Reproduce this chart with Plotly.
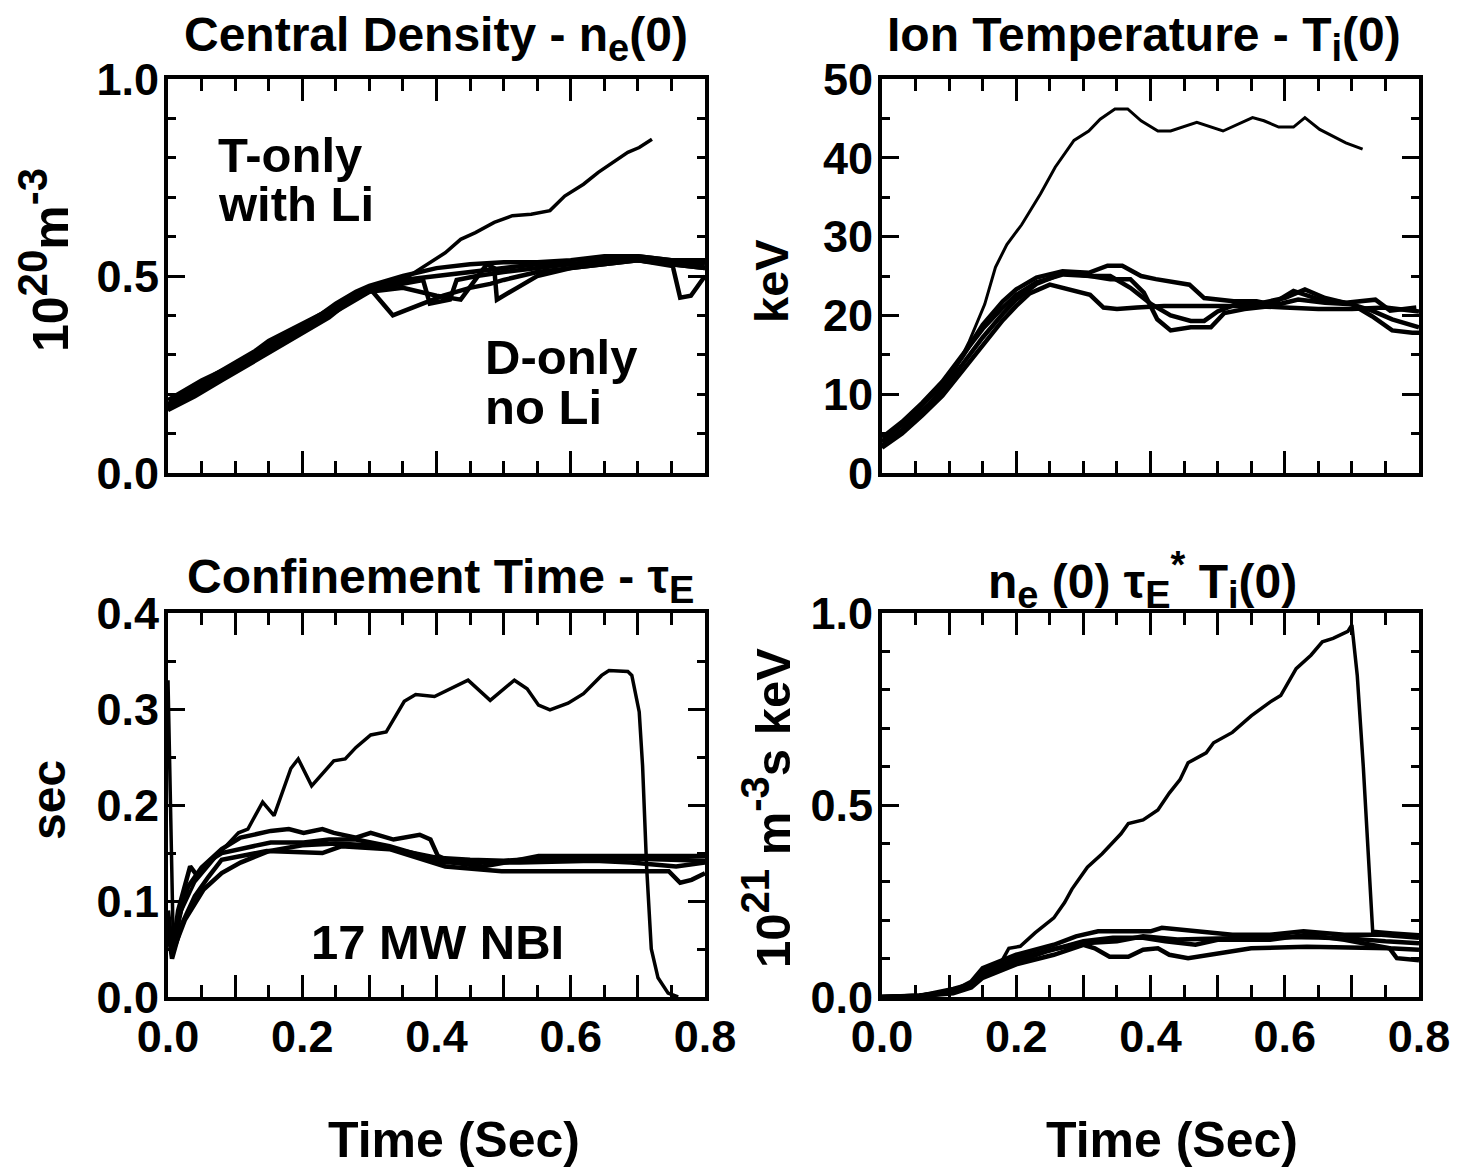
import plotly.graph_objects as go

W, H = 1483, 1172

# ---------------- data: Central density n_e(0) (1e20 m^-3) ----------------
ne_t_T = [0, 0.05, 0.1, 0.15, 0.2, 0.25, 0.3, 0.35, 0.391, 0.413, 0.436, 0.458, 0.486, 0.513,
          0.541, 0.569, 0.591, 0.619, 0.641, 0.663, 0.685, 0.702, 0.721]
ne_v_T = [0.16, 0.21, 0.26, 0.31, 0.36, 0.42, 0.46, 0.49, 0.534, 0.559, 0.593, 0.610, 0.636, 0.653,
          0.657, 0.666, 0.703, 0.733, 0.763, 0.788, 0.814, 0.826, 0.847]
ne_t_D1 = [0, 0.03, 0.07, 0.1, 0.13, 0.15, 0.2, 0.23, 0.25, 0.28, 0.3, 0.35, 0.4, 0.45, 0.5, 0.55, 0.6, 0.65, 0.7, 0.75, 0.8]
ne_v_D1 = [0.17, 0.20, 0.25, 0.28, 0.31, 0.335, 0.38, 0.405, 0.43, 0.46, 0.475, 0.50, 0.52, 0.53, 0.535, 0.535, 0.54, 0.55, 0.55, 0.54, 0.53]
ne_t_D2 = [0, 0.04, 0.08, 0.12, 0.16, 0.2, 0.24, 0.28, 0.3, 0.325, 0.335, 0.35, 0.38, 0.41, 0.45, 0.48, 0.5,
           0.55, 0.6, 0.65, 0.7, 0.75, 0.8]
ne_v_D2 = [0.16, 0.195, 0.235, 0.275, 0.315, 0.355, 0.395, 0.45, 0.47, 0.42, 0.40, 0.41, 0.43, 0.45, 0.47, 0.48, 0.49,
           0.51, 0.52, 0.53, 0.54, 0.53, 0.52]
ne_t_D3 = [0, 0.05, 0.1, 0.15, 0.2, 0.25, 0.3, 0.35, 0.38, 0.39, 0.42, 0.43, 0.46, 0.5, 0.55, 0.6, 0.65, 0.7, 0.75, 0.8]
ne_v_D3 = [0.185, 0.235, 0.275, 0.325, 0.375, 0.425, 0.465, 0.48, 0.49, 0.43, 0.44, 0.49, 0.50, 0.51, 0.52, 0.53, 0.54, 0.55, 0.54, 0.54]
ne_t_D4 = [0, 0.05, 0.1, 0.15, 0.2, 0.25, 0.3, 0.35, 0.4, 0.436, 0.475, 0.486, 0.49, 0.52, 0.55, 0.6, 0.65, 0.7, 0.75, 0.8]
ne_v_D4 = [0.165, 0.215, 0.26, 0.31, 0.36, 0.41, 0.46, 0.47, 0.45, 0.44, 0.53, 0.52, 0.44, 0.47, 0.50, 0.52, 0.53, 0.54, 0.53, 0.52]
ne_t_D5 = [0, 0.05, 0.1, 0.15, 0.2, 0.25, 0.3, 0.35, 0.4, 0.45, 0.5, 0.55, 0.6, 0.65, 0.7, 0.752, 0.763, 0.779, 0.8]
ne_v_D5 = [0.175, 0.225, 0.27, 0.32, 0.365, 0.42, 0.47, 0.49, 0.50, 0.51, 0.52, 0.53, 0.53, 0.54, 0.54, 0.525, 0.445, 0.45, 0.50]

# ---------------- data: Ion temperature T_i(0) (keV) ----------------
ti_t_T = [0, 0.025, 0.069, 0.103, 0.13, 0.153, 0.169, 0.186, 0.208, 0.236, 0.258, 0.286, 0.308, 0.325,
          0.347, 0.366, 0.386, 0.411, 0.43, 0.469, 0.508, 0.552, 0.569, 0.591, 0.613, 0.63, 0.652, 0.691, 0.716]
ti_v_T = [4.0, 5.7, 8.7, 12.1, 16.7, 21.4, 26.1, 29.0, 31.5, 35.4, 38.8, 42.2, 43.4, 44.9,
          46.2, 46.2, 44.7, 43.4, 43.4, 44.5, 43.4, 45.1, 44.7, 43.9, 43.9, 45.1, 43.6, 41.9, 41.1]
ti_t_Da = [0, 0.03, 0.06, 0.09, 0.12, 0.15, 0.18, 0.2, 0.23, 0.269, 0.308, 0.336, 0.358, 0.386, 0.408, 0.436,
           0.458, 0.48, 0.524, 0.558, 0.58, 0.613, 0.652, 0.691, 0.735, 0.757, 0.796]
ti_v_Da = [4.0, 6.2, 8.6, 11.2, 14.8, 18.8, 21.8, 23.3, 24.8, 25.6, 25.4, 26.3, 26.3, 25.0, 24.6, 24.2,
           23.9, 22.2, 21.8, 21.8, 21.4, 23.1, 22.0, 21.6, 22.0, 20.6, 21.0]
ti_t_Db = [0, 0.03, 0.06, 0.09, 0.12, 0.15, 0.18, 0.2, 0.23, 0.27, 0.31, 0.34, 0.37, 0.39, 0.41, 0.43, 0.46,
           0.49, 0.51, 0.54, 0.58, 0.62, 0.66, 0.70, 0.73, 0.76, 0.79, 0.8]
ti_v_Db = [3.5, 5.5, 7.8, 10.4, 13.8, 17.2, 20.2, 22.0, 24.0, 25.4, 25.0, 24.6, 24.6, 22.9, 19.5, 18.1, 18.5,
           18.5, 20.3, 20.8, 21.2, 22.0, 21.6, 21.4, 19.9, 18.1, 17.8, 17.8]
ti_t_Dc = [0, 0.03, 0.06, 0.09, 0.12, 0.15, 0.18, 0.2, 0.23, 0.27, 0.31, 0.34, 0.37, 0.40, 0.43, 0.46, 0.48,
           0.50, 0.53, 0.56, 0.60, 0.63, 0.66, 0.70, 0.73, 0.76, 0.8]
ti_v_Dc = [4.5, 6.5, 8.9, 11.6, 15.0, 18.3, 21.0, 22.6, 24.2, 25.2, 25.0, 25.0, 23.5, 21.5, 20.0, 19.3, 19.3,
           20.5, 21.5, 21.5, 22.2, 23.3, 22.2, 21.4, 20.6, 19.5, 18.5]
ti_t_Dd = [0, 0.03, 0.06, 0.09, 0.12, 0.15, 0.18, 0.2, 0.22, 0.25, 0.28, 0.31, 0.33, 0.35, 0.38, 0.42, 0.46,
           0.50, 0.55, 0.6, 0.65, 0.7, 0.75, 0.8]
ti_v_Dd = [3.2, 5.0, 7.3, 9.8, 13.0, 16.3, 19.4, 21.2, 22.8, 23.9, 23.3, 22.6, 21.0, 20.8, 21.0, 21.2, 21.2,
           21.2, 21.2, 21.0, 20.8, 20.8, 21.0, 20.5]

# ---------------- data: Confinement time tau_E (s) ----------------
te_t_T = [0, 0.008, 0.02, 0.04, 0.07, 0.105, 0.119, 0.141, 0.158, 0.183, 0.194, 0.214, 0.247, 0.264, 0.28,
          0.302, 0.325, 0.352, 0.369, 0.397, 0.447, 0.48, 0.516, 0.535, 0.552, 0.569, 0.596, 0.619, 0.646,
          0.657, 0.685, 0.691, 0.702, 0.707, 0.713, 0.72, 0.73, 0.745, 0.76]
te_v_T = [0.33, 0.05, 0.09, 0.12, 0.145, 0.171, 0.175, 0.203, 0.189, 0.238, 0.248, 0.220, 0.246, 0.248, 0.260,
          0.273, 0.276, 0.308, 0.315, 0.313, 0.330, 0.309, 0.330, 0.321, 0.304, 0.299, 0.306, 0.316, 0.335,
          0.340, 0.339, 0.335, 0.297, 0.241, 0.136, 0.05, 0.02, 0.004, 0.0]
te_t_Da = [0, 0.006, 0.015, 0.03, 0.05, 0.08, 0.108, 0.153, 0.18, 0.202, 0.23, 0.247, 0.28, 0.302, 0.336,
           0.375, 0.391, 0.402, 0.424, 0.469, 0.502, 0.552, 0.608, 0.69, 0.763, 0.8]
te_v_Da = [0.09, 0.05, 0.08, 0.115, 0.135, 0.154, 0.166, 0.173, 0.175, 0.171, 0.175, 0.171, 0.166, 0.171, 0.164,
           0.169, 0.164, 0.147, 0.14, 0.136, 0.14, 0.147, 0.147, 0.147, 0.147, 0.147]
te_t_Db = [0, 0.006, 0.015, 0.033, 0.044, 0.064, 0.08, 0.153, 0.202, 0.24, 0.28, 0.33, 0.413, 0.469, 0.524,
           0.635, 0.69, 0.757, 0.8]
te_v_Db = [0.08, 0.045, 0.09, 0.136, 0.126, 0.143, 0.150, 0.161, 0.161, 0.164, 0.164, 0.157, 0.14, 0.14, 0.14,
           0.142, 0.14, 0.136, 0.14]
te_t_Dc = [0, 0.006, 0.02, 0.04, 0.06, 0.08, 0.147, 0.202, 0.23, 0.258, 0.33, 0.413, 0.497, 0.552, 0.635,
           0.746, 0.763, 0.78, 0.8]
te_v_Dc = [0.07, 0.04, 0.075, 0.105, 0.125, 0.143, 0.152, 0.150, 0.150, 0.157, 0.154, 0.136, 0.131, 0.131, 0.131,
           0.131, 0.119, 0.122, 0.129]
te_t_Dd = [0, 0.008, 0.025, 0.053, 0.08, 0.108, 0.15, 0.2, 0.25, 0.3, 0.35, 0.4, 0.45, 0.5, 0.55, 0.6, 0.65,
           0.7, 0.75, 0.8]
te_v_Dd = [0.06, 0.049, 0.08, 0.112, 0.129, 0.14, 0.152, 0.158, 0.16, 0.158, 0.152, 0.145, 0.143, 0.142, 0.144,
           0.143, 0.145, 0.144, 0.143, 0.142]

# ---------------- data: fusion product n_e tau_E T_i (1e21 m^-3 s keV) ----------------
fp_t_T = [0, 0.056, 0.106, 0.133, 0.15, 0.178, 0.189, 0.206, 0.228, 0.256, 0.272, 0.283, 0.306, 0.328, 0.356,
          0.367, 0.389, 0.411, 0.428, 0.444, 0.456, 0.483, 0.494, 0.522, 0.55, 0.578, 0.594, 0.617, 0.639,
          0.656, 0.672, 0.694, 0.7, 0.708, 0.717, 0.725, 0.731, 0.761, 0.8]
fp_v_T = [0, 0.004, 0.022, 0.035, 0.066, 0.092, 0.127, 0.132, 0.167, 0.206, 0.246, 0.281, 0.338, 0.373, 0.425,
          0.452, 0.461, 0.487, 0.531, 0.566, 0.61, 0.636, 0.662, 0.689, 0.732, 0.768, 0.785, 0.855, 0.89,
          0.925, 0.934, 0.952, 0.969, 0.838, 0.6, 0.338, 0.171, 0.167, 0.162]
fp_t_D1 = [0, 0.056, 0.106, 0.133, 0.15, 0.2, 0.256, 0.289, 0.322, 0.356, 0.4, 0.417, 0.489, 0.522, 0.578,
           0.628, 0.689, 0.744, 0.8]
fp_v_D1 = [0, 0.004, 0.015, 0.04, 0.075, 0.11, 0.136, 0.158, 0.171, 0.171, 0.171, 0.18, 0.167, 0.162, 0.162,
           0.171, 0.162, 0.162, 0.154]
fp_t_D2 = [0, 0.056, 0.106, 0.133, 0.15, 0.2, 0.244, 0.3, 0.344, 0.389, 0.422, 0.467, 0.5, 0.578, 0.633,
           0.689, 0.756, 0.8]
fp_v_D2 = [0, 0.003, 0.012, 0.03, 0.06, 0.092, 0.118, 0.145, 0.154, 0.154, 0.145, 0.136, 0.149, 0.149, 0.162,
           0.149, 0.127, 0.123]
fp_t_D3 = [0, 0.056, 0.106, 0.133, 0.15, 0.2, 0.256, 0.3, 0.317, 0.339, 0.367, 0.389, 0.411, 0.428, 0.456,
           0.5, 0.55, 0.633, 0.706, 0.756, 0.767, 0.8]
fp_v_D3 = [0, 0.002, 0.01, 0.025, 0.05, 0.085, 0.11, 0.136, 0.127, 0.105, 0.105, 0.123, 0.127, 0.11, 0.101,
           0.114, 0.127, 0.131, 0.127, 0.127, 0.101, 0.096]
fp_t_D4 = [0, 0.056, 0.106, 0.133, 0.15, 0.2, 0.256, 0.3, 0.35, 0.389, 0.44, 0.5, 0.55, 0.6, 0.65, 0.7, 0.75, 0.8]
fp_v_D4 = [0, 0.003, 0.014, 0.033, 0.065, 0.1, 0.125, 0.14, 0.145, 0.158, 0.15, 0.152, 0.155, 0.156, 0.155,
           0.152, 0.145, 0.14]

# ---------------- tick labels ----------------
x_tickvals = [0, 0.1, 0.2, 0.3, 0.4, 0.5, 0.6, 0.7, 0.8]
x_ticktext = ["0.0", "", "0.2", "", "0.4", "", "0.6", "", "0.8"]
ne_ticks = [0, 0.5, 1.0]
ne_ticktext = ["0.0", "0.5", "1.0"]
ti_ticks = [0, 10, 20, 30, 40, 50]
ti_ticktext = ["0", "10", "20", "30", "40", "50"]
te_ticks = [0, 0.1, 0.2, 0.3, 0.4]
te_ticktext = ["0.0", "0.1", "0.2", "0.3", "0.4"]
fp_ticks = [0, 0.5, 1.0]
fp_ticktext = ["0.0", "0.5", "1.0"]

FONT = "Liberation Sans, Arial, Helvetica, sans-serif"
D_W = 4.5
T_W = 3.5

fig = go.Figure()

def add(t, v, xa, ya, w):
    fig.add_trace(go.Scatter(x=t, y=v, mode="lines", xaxis=xa, yaxis=ya,
                             line=dict(color="black", width=w), showlegend=False,
                             hoverinfo="skip"))

for t, v in [(ne_t_D1, ne_v_D1), (ne_t_D2, ne_v_D2), (ne_t_D3, ne_v_D3), (ne_t_D4, ne_v_D4), (ne_t_D5, ne_v_D5)]:
    add(t, v, "x", "y", D_W)
add(ne_t_T, ne_v_T, "x", "y", T_W)
for t, v in [(ti_t_Da, ti_v_Da), (ti_t_Db, ti_v_Db), (ti_t_Dc, ti_v_Dc), (ti_t_Dd, ti_v_Dd)]:
    add(t, v, "x2", "y2", D_W)
add(ti_t_T, ti_v_T, "x2", "y2", 3.0)
for t, v in [(te_t_Da, te_v_Da), (te_t_Db, te_v_Db), (te_t_Dc, te_v_Dc), (te_t_Dd, te_v_Dd)]:
    add(t, v, "x3", "y3", D_W)
add(te_t_T, te_v_T, "x3", "y3", T_W)
for t, v in [(fp_t_D1, fp_v_D1), (fp_t_D2, fp_v_D2), (fp_t_D3, fp_v_D3), (fp_t_D4, fp_v_D4)]:
    add(t, v, "x4", "y4", D_W)
add(fp_t_T, fp_v_T, "x4", "y4", T_W)

def px(x):
    return x / W

def py(y):
    return 1 - y / H

L1, R1 = 168, 705
L2, R2 = 882, 1419
T1, B1 = 79, 473
T2, B2 = 613, 997

tickfont = dict(family=FONT, size=45, color="black", weight="bold")

def xaxis(dom, anchor, labels):
    return dict(domain=[px(dom[0]), px(dom[1])], anchor=anchor, range=[0, 0.8],
                tickmode="array", tickvals=x_tickvals, ticktext=x_ticktext,
                showticklabels=labels, ticks="inside", ticklen=22, tickwidth=3, tickcolor="black",
                minor=dict(tickmode="linear", tick0=0, dtick=0.05, ticks="inside", ticklen=12,
                           tickwidth=3, tickcolor="black", showgrid=False),
                showline=True, linewidth=4, linecolor="black", mirror="ticks",
                showgrid=False, zeroline=False, tickfont=tickfont, fixedrange=True,
                automargin=False, ticklabelstandoff=-3)

def yaxis(dom, anchor, rng, vals, text, mdt):
    return dict(domain=[py(dom[1]), py(dom[0])], anchor=anchor, range=rng,
                tickmode="array", tickvals=vals, ticktext=text,
                ticks="inside", ticklen=17, tickwidth=3, tickcolor="black",
                minor=dict(tickmode="linear", tick0=0, dtick=mdt, ticks="inside", ticklen=8,
                           tickwidth=3, tickcolor="black", showgrid=False),
                showline=True, linewidth=4, linecolor="black", mirror="ticks",
                showgrid=False, zeroline=False, tickfont=tickfont, fixedrange=True,
                automargin=False, ticklabelstandoff=-4)

fig.update_layout(
    width=W, height=H, margin=dict(l=0, r=0, t=0, b=0, pad=0, autoexpand=False),
    paper_bgcolor="white", plot_bgcolor="white", showlegend=False,
    xaxis=xaxis((L1, R1), "y", False),
    yaxis=yaxis((T1, B1), "x", [0, 1.0], ne_ticks, ne_ticktext, 0.1),
    xaxis2=xaxis((L2, R2), "y2", False),
    yaxis2=yaxis((T1, B1), "x2", [0, 50], ti_ticks, ti_ticktext, 5),
    xaxis3=xaxis((L1, R1), "y3", True),
    yaxis3=yaxis((T2, B2), "x3", [0, 0.4], te_ticks, te_ticktext, 0.05),
    xaxis4=xaxis((L2, R2), "y4", True),
    yaxis4=yaxis((T2, B2), "x4", [0, 1.0], fp_ticks, fp_ticktext, 0.1),
)

anns = []

def ann(text, x, y, size, angle=0, xanchor="center", yanchor="middle"):
    anns.append(dict(text=text, x=px(x), y=py(y), xref="paper", yref="paper", showarrow=False,
                     xanchor=xanchor, yanchor=yanchor, textangle=angle,
                     font=dict(family=FONT, size=size, color="black", weight="bold")))

def sub(s, fs=38):
    return '<sub><span style="font-size:%dpx">%s</span></sub>' % (fs, s)

def sup(s, fs=38):
    return '<sup><span style="font-size:%dpx">%s</span></sup>' % (fs, s)

ann("Central Density - n" + sub("e") + "(0)", 436, 38, 48)
ann("Ion Temperature - T" + sub("i") + "(0)", 1144, 38, 48)
ann("Confinement Time - τ" + sub("E"), 440, 580, 48)
ann("n" + sub("e") + " (0) τ" + sub("E") + sup("*") + " T" + sub("i") + "(0)", 1142, 580, 48)
ann("10" + sup("20", 42) + "m" + sup("-3", 42), 44, 260, 50, angle=-90)
ann("keV", 772, 281, 47, angle=-90)
ann("sec", 48, 800, 48, angle=-90)
ann("10" + sup("21", 40) + " m" + sup("-3", 40) + "s keV", 766, 808, 49, angle=-90)
ann("Time (Sec)", 454, 1140, 50)
ann("Time (Sec)", 1172, 1140, 50)
ann("T-only", 216, 155, 49, xanchor="left")
ann("with Li", 216, 204, 49, xanchor="left")
ann("D-only", 483, 357, 49, xanchor="left")
ann("no Li", 483, 407, 49, xanchor="left")
ann("17 MW NBI", 437, 942, 49)
fig.update_layout(annotations=anns)

fig.write_html("out.html")
